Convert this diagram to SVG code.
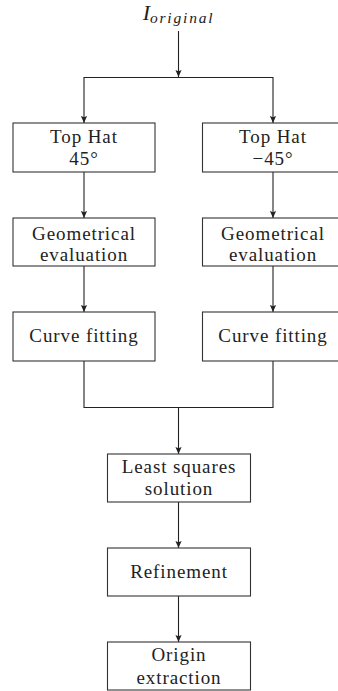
<svg xmlns="http://www.w3.org/2000/svg" width="338" height="691" viewBox="0 0 338 691">
<style>
.box{fill:#fff;stroke:#333;stroke-width:1.1}
.t{font-family:"Liberation Serif","DejaVu Serif",serif;font-size:19px;letter-spacing:0.9px;fill:#222;text-anchor:middle}
.c{fill:none;stroke:#222;stroke-width:1.1}
</style>
<defs>
<marker id="ah" viewBox="0 0 8 8" refX="8" refY="4" markerWidth="7" markerHeight="7" markerUnits="userSpaceOnUse" orient="auto">
<path d="M0,0.5 L8,4 L0,7.5 L1.5,4 Z" fill="#222"/>
</marker>
</defs>
<g id="connectors">
<path class="c" d="M178.5,31 V77" marker-end="url(#ah)"/>
<path class="c" d="M84,90 V77.5 H273 V90" />
<path class="c" d="M84,90 V123" marker-end="url(#ah)"/>
<path class="c" d="M273,90 V123" marker-end="url(#ah)"/>
<path class="c" d="M84,172 V218" marker-end="url(#ah)"/>
<path class="c" d="M273,172 V218" marker-end="url(#ah)"/>
<path class="c" d="M84,266 V312" marker-end="url(#ah)"/>
<path class="c" d="M273,266 V312" marker-end="url(#ah)"/>
<path class="c" d="M84,361 V407.5 H273 V361"/>
<path class="c" d="M178.5,407.5 V454" marker-end="url(#ah)"/>
<path class="c" d="M178.5,502 V548" marker-end="url(#ah)"/>
<path class="c" d="M178.5,596 V642" marker-end="url(#ah)"/>
</g>
<g id="input">
<text x="178.5" y="20" style="font-family:'Liberation Serif',serif;font-style:italic;fill:#222;font-size:22px" text-anchor="middle">I<tspan font-size="15.5px" dy="3" letter-spacing="1.8px">original</tspan></text>
</g>
<g id="tophat45">
<rect class="box" x="13" y="123" width="142" height="49"/>
<text class="t" x="84" y="143">Top Hat</text>
<text class="t" x="84" y="165">45°</text>
</g>
<g id="tophatm45">
<rect class="box" x="202.5" y="123" width="142" height="49"/>
<text class="t" x="273" y="143">Top Hat</text>
<text class="t" x="273" y="165">−45°</text>
</g>
<g id="geo1">
<rect class="box" x="13" y="218" width="142" height="48"/>
<text class="t" x="84" y="239.5">Geometrical</text>
<text class="t" x="84" y="260.5">evaluation</text>
</g>
<g id="geo2">
<rect class="box" x="202.5" y="218" width="142" height="48"/>
<text class="t" x="273" y="239.5">Geometrical</text>
<text class="t" x="273" y="260.5">evaluation</text>
</g>
<g id="curve1">
<rect class="box" x="13" y="312" width="142" height="49"/>
<text class="t" x="84" y="342">Curve fitting</text>
</g>
<g id="curve2">
<rect class="box" x="202.5" y="312" width="142" height="49"/>
<text class="t" x="273" y="342">Curve fitting</text>
</g>
<g id="lsq">
<rect class="box" x="107.5" y="454" width="143" height="48"/>
<text class="t" x="179" y="473">Least squares</text>
<text class="t" x="179" y="495">solution</text>
</g>
<g id="refine">
<rect class="box" x="107.5" y="548" width="143" height="48"/>
<text class="t" x="179" y="578">Refinement</text>
</g>
<g id="origin">
<rect class="box" x="107.5" y="642" width="143" height="48"/>
<text class="t" x="179" y="661">Origin</text>
<text class="t" x="179" y="684">extraction</text>
</g>
</svg>
